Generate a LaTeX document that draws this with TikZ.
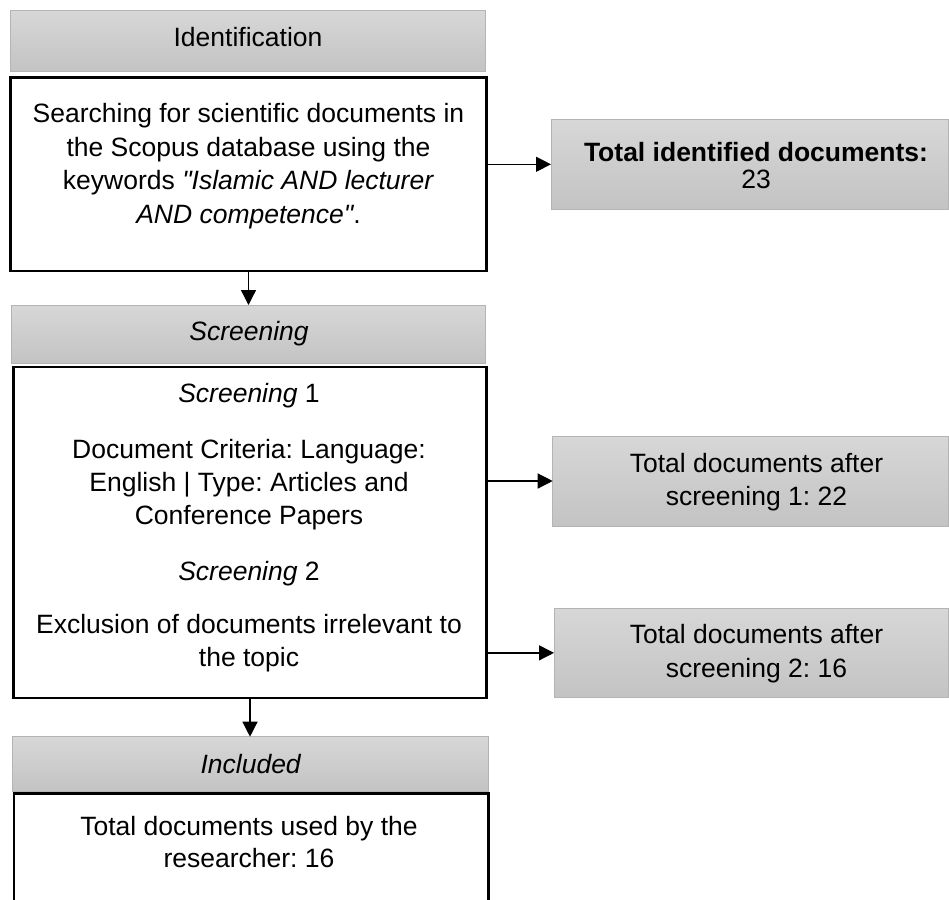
\documentclass[tikz,border=0pt]{standalone}
\usepackage{fontspec}
\setmainfont{Liberation Sans}
\usetikzlibrary{arrows.meta}
\definecolor{gtop}{HTML}{D7D7D7}
\definecolor{gbot}{HTML}{C3C3C3}
\definecolor{gline}{HTML}{B4B4B4}
\frenchspacing
\begin{document}
\begin{tikzpicture}[x=1pt,y=-1pt,
  hdr/.style={draw=gline, line width=1pt, top color=gtop, bottom color=gbot, inner sep=0, outer sep=0, anchor=north west},
  wbox/.style={draw=black, line width=2.5pt, fill=white, inner sep=0, outer sep=0, anchor=north west},
  txt/.style={inner sep=0, outer sep=0, anchor=base, font=\fontsize{26.5}{33}\selectfont},
  arr/.style={line width=1.3pt, -{Triangle[length=15pt,width=15pt]}}]
\useasboundingbox[fill=white] (0,0) rectangle (949,899);
% left column
\node[hdr, minimum width=475.7pt, minimum height=61pt] (h1) at (10,10.7) {};
\node[wbox, minimum width=475.6pt, minimum height=193.7pt] (b1) at (10.7,77.3) {};
\node[hdr, minimum width=474pt, minimum height=58.3pt] (h2) at (11.7,305) {};
\node[wbox, minimum width=472.6pt, minimum height=331pt] (b2) at (13.7,367) {};
\node[hdr, minimum width=475.6pt, minimum height=55pt] (h3) at (12.7,736.7) {};
\node[wbox, draw=none, fill=none, minimum width=474.7pt, minimum height=108pt] (b3) at (14,793.7) {};
\draw[line width=2.5pt] (b3.south west) -- (b3.north west) -- (b3.north east) -- (b3.south east);
% right column
\node[hdr, minimum width=397pt, minimum height=90pt] (r1) at (551,119.3) {};
\node[hdr, minimum width=395.3pt, minimum height=90pt] (r2) at (552.7,436) {};
\node[hdr, minimum width=394pt, minimum height=89.7pt] (r3) at (554,608) {};
% connectors
\draw[arr] (b1.south) -- (b1.south |- h2.north);
\draw[arr] (b2.south) -- (b2.south |- h3.north);
\draw[arr] (b1.east |- r1.west) -- (r1.west);
\draw[arr] (b2.east |- r2.west) -- (r2.west);
\draw[arr] (b2.east |- r3.west) -- (r3.west);
% texts
\node[txt] (th1) at (248,46.5) {Identification};
\node[txt] (t1a) at (248.5,122.5) {Searching for scientific documents in};
\node[txt] (t1b) at (248.5,156) {the Scopus database using the};
\node[txt] (t1c) at (248.5,189.5) {keywords \textit{\textquotedbl Islamic AND lecturer}};
\node[txt] (t1d) at (248.5,223) {\textit{AND competence\textquotedbl}.};
\node[txt] (th2) at (249,340) {\textit{Screening}};
\node[txt] (t2a) at (249,402.5) {\textit{Screening} 1};
\node[txt] (t2b) at (249,458) {Document Criteria: Language:};
\node[txt] (t2c) at (249,491) {English | Type: Articles and};
\node[txt] (t2d) at (249,524.5) {Conference Papers};
\node[txt] (t2e) at (249,580) {\textit{Screening} 2};
\node[txt] (t2f) at (249,633) {Exclusion of documents irrelevant to};
\node[txt] (t2g) at (249,666) {the topic};
\node[txt] (th3) at (251,773.5) {\textit{Included}};
\node[txt] (t3a) at (249,835) {Total documents used by the};
\node[txt] (t3b) at (249,867) {researcher: 16};
\node[txt] (tr1a) at (756,161) {\textbf{Total identified documents:}};
\node[txt] (tr1b) at (756,188) {23};
\node[txt] (tr2a) at (756.5,472) {Total documents after};
\node[txt] (tr2b) at (756.5,505.5) {screening 1: 22};
\node[txt] (tr3a) at (756.5,643) {Total documents after};
\node[txt] (tr3b) at (756.5,677) {screening 2: 16};
\end{tikzpicture}
\end{document}
